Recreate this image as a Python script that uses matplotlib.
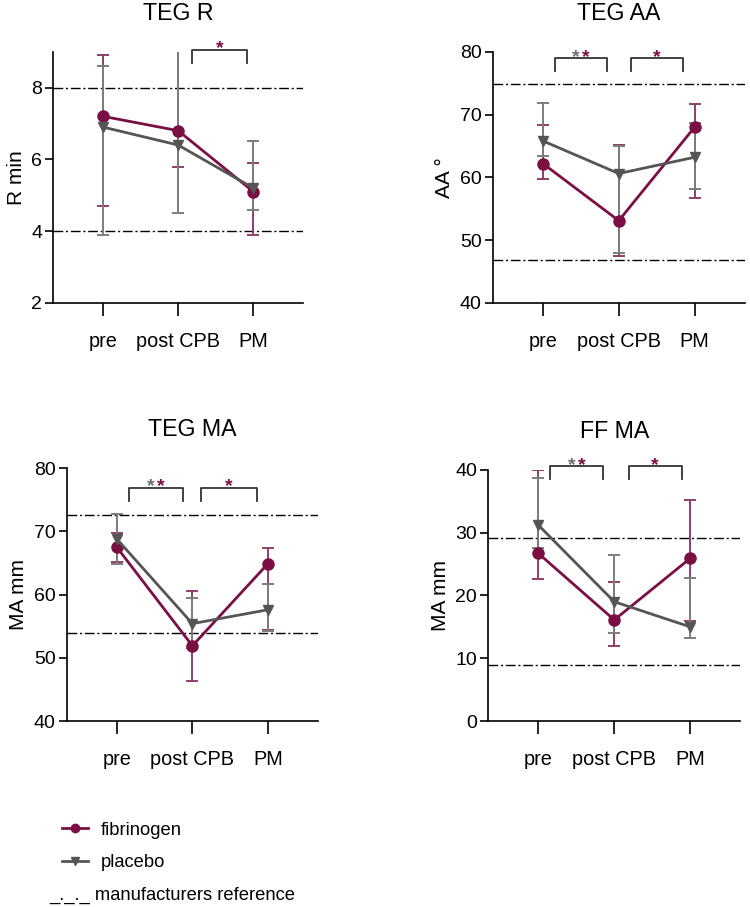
import matplotlib
matplotlib.use("Agg")
import matplotlib.pyplot as plt
from matplotlib.lines import Line2D

plt.rcParams["font.family"] = ["Liberation Sans", "DejaVu Sans"]

# ---- data ----
timepoints = ["pre", "post CPB", "PM"]
x_pos = [1, 2, 3]

titles  = ["TEG R", "TEG AA", "TEG MA", "FF MA"]
ylabels = ["R min", "AA \u00b0", "MA mm", "MA mm"]
ylims   = [(2, 9), (40, 80), (40, 80), (0, 40)]
yticks  = [[2, 4, 6, 8], [40, 50, 60, 70, 80], [40, 50, 60, 70, 80],
           [0, 10, 20, 30, 40]]

fib_mean  = [[7.2, 6.8, 5.1], [62.2, 53.1, 68.0], [67.5, 51.9, 64.9], [26.7, 16.1, 25.9]]
fib_upper = [[8.9, 9.5, 5.9], [68.3, 65.1, 71.6], [69.8, 60.6, 67.3], [40.0, 22.2, 35.2]]
fib_lower = [[4.7, 5.8, 3.9], [59.7, 47.5, 56.7], [65.1, 46.3, 54.4], [22.6, 11.9, 16.0]]

pla_mean  = [[6.9, 6.4, 5.2], [65.8, 60.6, 63.2], [68.8, 55.4, 57.6], [31.2, 19.0, 15.0]]
pla_upper = [[8.6, 9.5, 6.5], [71.8, 65.0, 68.7], [72.8, 59.4, 61.6], [38.7, 26.4, 22.7]]
pla_lower = [[3.9, 4.5, 4.6], [63.4, 48.0, 58.1], [64.8, 51.5, 54.2], [27.5, 14.0, 13.3]]

ref_lines = [[8.0, 4.0], [74.8, 46.9], [72.6, 53.9], [29.1, 8.9]]

# significance brackets: (x_start, x_end, y_top, y_bottom, stars)
brackets = [
    [(2.19, 2.92, 9.06, 8.69, "p")],
    [(1.155, 1.84, 79.0, 76.9, "gp"), (2.16, 2.85, 79.0, 76.9, "p")],
    [(1.16, 1.88, 76.9, 74.8, "gp"), (2.12, 2.85, 76.9, 74.8, "p")],
    [(1.15, 1.85, 40.6, 38.5, "gp"), (2.19, 2.89, 40.6, 38.5, "p")],
]

FIB = "#7a0f43"
FIB_ERR = "#8f4068"
PLA = "#555555"
PLA_ERR = "#7d7d7d"
STAR_GREY = "#707070"
REF_LS = (0, (7, 2, 1.5, 2))

# axes rectangles in figure fraction
rects = [
    [0.071, 0.666, 0.333, 0.277],
    [0.657, 0.666, 0.336, 0.277],
    [0.089, 0.205, 0.335, 0.279],
    [0.651, 0.205, 0.336, 0.277],
]


def star(ax, x, y, col):
    ax.annotate("*", (x, y), xytext=(0, -2.8), textcoords="offset points",
                color=col, ha="center", va="baseline", fontsize=14,
                fontweight="bold", annotation_clip=False)


fig = plt.figure(figsize=(7.5, 9.07), dpi=100)

for i in range(4):
    ax = fig.add_axes(rects[i])
    lo, hi = ylims[i]

    for r in ref_lines[i]:
        ax.axhline(r, color="black", lw=1.0, ls=REF_LS, zorder=1)

    for mean, up, low, col, ecol, mk, ms in [
        (fib_mean[i], fib_upper[i], fib_lower[i], FIB, FIB_ERR, "o", 8),
        (pla_mean[i], pla_upper[i], pla_lower[i], PLA, PLA_ERR, "v", 7.5),
    ]:
        yerr = [[m - l for m, l in zip(mean, low)], [u - m for m, u in zip(mean, up)]]
        ax.errorbar(x_pos, mean, yerr=yerr, fmt="none", ecolor=ecol,
                    elinewidth=1.4, capsize=4.5, capthick=1.4, zorder=2)
        ax.plot(x_pos, mean, color=col, lw=2.0, marker=mk, ms=ms, zorder=3)

    for x0, x1, yt, yb, stars in brackets[i]:
        ax.plot([x0, x0, x1, x1], [yb, yt, yt, yb], color="#333333", lw=1.3,
                clip_on=False, zorder=4)
        xc = (x0 + x1) / 2
        if stars == "p":
            star(ax, xc, yt, FIB)
        else:
            star(ax, xc - 0.066, yt, STAR_GREY)
            star(ax, xc + 0.066, yt, FIB)

    ax.set_xlim(0.34, 3.66)
    ax.set_ylim(lo, hi)
    ax.set_xticks(x_pos)
    ax.set_xticklabels(timepoints)
    ax.set_yticks(yticks[i])
    ax.tick_params(axis="x", length=9, width=1.2, pad=12, labelsize=14.3)
    ax.tick_params(axis="y", length=6, width=1.2, pad=2, labelsize=14)
    for s in ["top", "right"]:
        ax.spines[s].set_visible(False)
    for s in ["left", "bottom"]:
        ax.spines[s].set_linewidth(1.2)
    ax.set_ylabel(ylabels[i], fontsize=15, labelpad=4)
    ax.set_title(titles[i], fontsize=16.7, pad=23)

handles = [
    Line2D([], [], color=FIB, lw=2, marker="o", ms=6),
    Line2D([], [], color=PLA, lw=2, marker="v", ms=6),
]
fig.legend(handles, ["fibrinogen", "placebo"], loc="upper left",
           bbox_to_anchor=(0.06, 0.112), frameon=False, fontsize=13.2,
           handlelength=1.45, handletextpad=0.7, labelspacing=0.85)
fig.text(0.066, 0.013, "_._._ manufacturers reference", fontsize=13.2,
         ha="left", va="center")

fig.savefig("out.png", dpi=100)
